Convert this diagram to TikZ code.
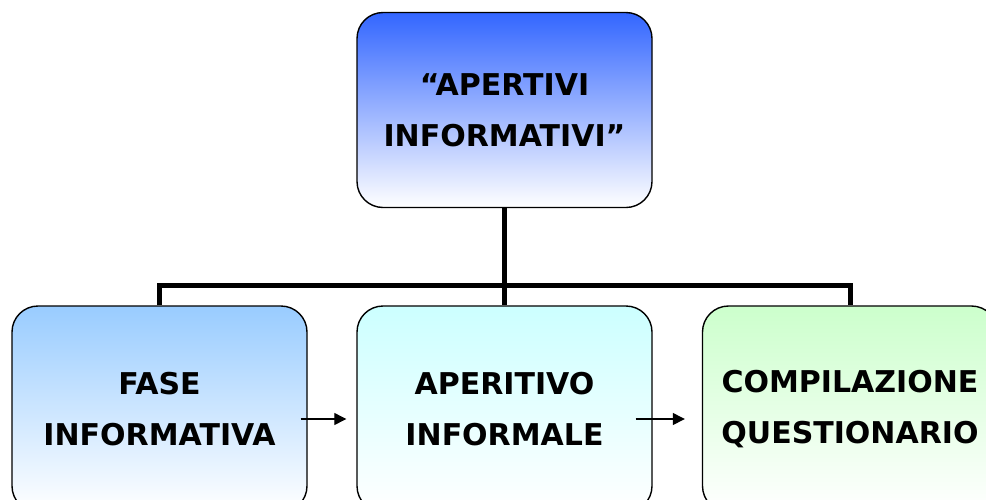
\documentclass[tikz,border=0pt]{standalone}
\usepackage{fontspec}
\setmainfont{DejaVu Sans}
\usetikzlibrary{arrows.meta}

\definecolor{topblue}{RGB}{51,102,255}
\definecolor{lightblue}{RGB}{153,204,255}
\definecolor{lightcyan}{RGB}{204,255,255}
\definecolor{lightgreen}{RGB}{204,255,204}

\begin{document}
\begin{tikzpicture}
[x=1pt, y=-1pt,
 box/.style={draw, line width=1.4pt, rounded corners=26pt,
   minimum width=295pt, align=center, bottom color=white,
   font=\fontsize{30}{51}\selectfont\bfseries},
 tree/.style={line width=5pt},
 flow/.style={line width=1.3pt, -{Triangle[length=12pt,width=12pt]}}]
\useasboundingbox (0,0) rectangle (986,499);
\clip (0,0) rectangle (986,499);
\node[box, top color=topblue, minimum height=195pt] (apert) at (504.5,110) {“APERTIVI\\INFORMATIVI”};
\node[box, top color=lightblue, minimum height=206pt] (fase) at (159.5,409) {FASE\\INFORMATIVA};
\node[box, top color=lightcyan, minimum height=206pt] (aperit) at (504.5,409) {APERITIVO\\INFORMALE};
\node[box, top color=lightgreen, minimum height=206pt] (compil) at (850,409) {COMPILAZIONE\\QUESTIONARIO};
\coordinate (bar) at (0,285);
% tree
\draw[tree] (apert.south) -- (aperit.north);
\draw[tree] (fase.north) |- (bar -| compil.north) -- (compil.north);
% flow
\draw[flow] ([shift={(-7,10)}]fase.east) -- ([shift={(-10,10)}]aperit.west);
\draw[flow] ([shift={(-17,10)}]aperit.east) -- ([shift={(-17,10)}]compil.west);
\end{tikzpicture}
\end{document}
